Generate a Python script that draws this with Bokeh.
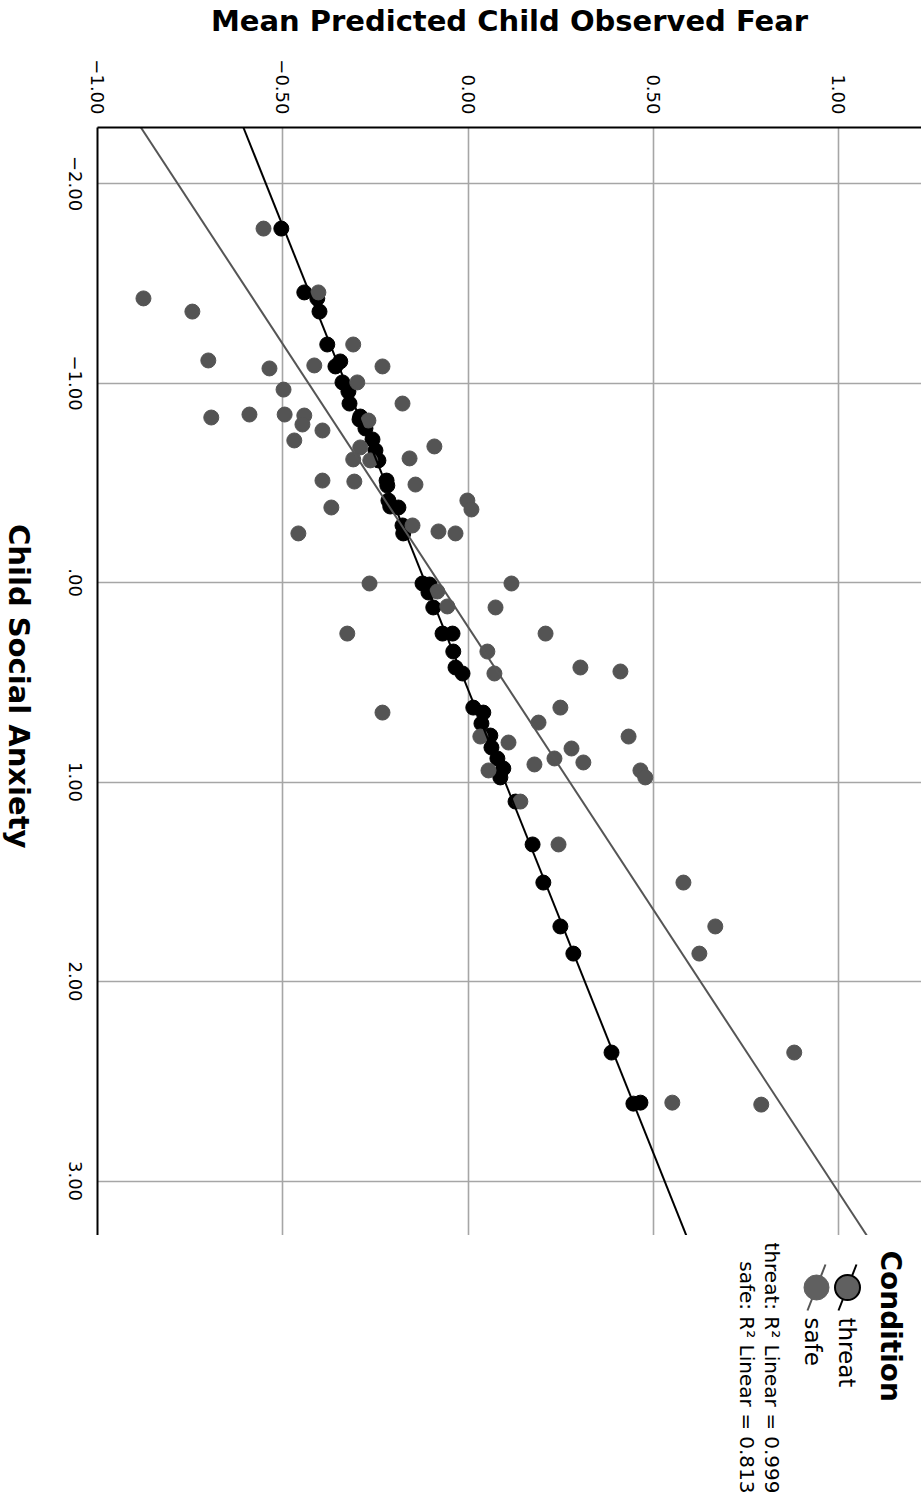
import math
from bokeh.plotting import figure
from bokeh.models import Range1d, FixedTicker, ColumnDataSource
from bokeh.layouts import column, row
from bokeh.core.properties import value
from bokeh.embed import file_html
from bokeh.resources import INLINE

# ---- data ----
safe_anxiety = [-1.774, -1.424, -1.358, -1.454, -1.113, -1.193, -1.073, -1.088, -1.083, -1.003,
                -0.967, -0.897, -0.827, -0.842, -0.842, -0.837, -0.792, -0.812, -0.762, -0.712,
                -0.677, -0.682, -0.622, -0.617, -0.612, -0.511, -0.506, -0.491, -0.411, -0.366,
                -0.376, -0.246, -0.286, -0.256, -0.246, 0.005, 0.005, 0.045, 0.120, 0.125,
                0.256, 0.256, 0.346, 0.456, 0.426, 0.446, 0.627, 0.702, 0.772, 0.772,
                0.802, 0.832, 0.882, 0.902, 0.912, 0.942, 0.977, 0.942, 1.098, 1.313,
                1.504, 1.724, 1.860, 2.356, 2.607, 2.617, 0.652]
safe_fear = [-0.552, -0.876, -0.744, -0.404, -0.701, -0.310, -0.536, -0.415, -0.231, -0.299,
             -0.498, -0.177, -0.693, -0.590, -0.495, -0.442, -0.447, -0.269, -0.393, -0.469,
             -0.291, -0.091, -0.158, -0.310, -0.264, -0.393, -0.307, -0.142, -0.002, 0.009,
             -0.369, -0.458, -0.150, -0.080, -0.034, -0.266, 0.117, -0.083, -0.056, 0.074,
             -0.326, 0.209, 0.052, 0.071, 0.303, 0.411, 0.249, 0.190, 0.433, 0.033,
             0.109, 0.279, 0.233, 0.311, 0.179, 0.465, 0.478, 0.055, 0.141, 0.244,
             0.581, 0.667, 0.624, 0.880, 0.551, 0.791, -0.231]

threat_anxiety = [-1.774, -1.454, -1.424, -1.358, -1.193, -1.108, -1.083, -1.003, -0.957, -0.897,
                  -0.832, -0.817, -0.772, -0.717, -0.662, -0.612, -0.511, -0.486, -0.411, -0.381,
                  -0.376, -0.286, -0.246, 0.005, 0.010, 0.050, 0.125, 0.256, 0.256, 0.346,
                  0.426, 0.456, 0.627, 0.652, 0.707, 0.767, 0.827, 0.882, 0.932, 0.977,
                  1.098, 1.313, 1.504, 1.724, 1.860, 2.356, 2.612, 2.607]
threat_fear = [-0.504, -0.442, -0.407, -0.401, -0.380, -0.345, -0.358, -0.339, -0.323, -0.320,
               -0.291, -0.293, -0.277, -0.258, -0.250, -0.242, -0.220, -0.218, -0.215, -0.210,
               -0.188, -0.177, -0.175, -0.123, -0.104, -0.107, -0.094, -0.069, -0.042, -0.040,
               -0.034, -0.015, 0.014, 0.041, 0.036, 0.060, 0.063, 0.079, 0.095, 0.087,
               0.128, 0.174, 0.203, 0.249, 0.284, 0.387, 0.446, 0.465]

# linear fit lines (intercept, slope)
threat_fit = (-0.1155, 0.2152)
safe_fit = (-0.0785, 0.3527)

fear_ticks = [-1.0, -0.5, 0.0, 0.5, 1.0]
fear_labels = ["\u22121.00", "\u22120.50", "0.00", "0.50", "1.00"]
anx_ticks = [-2, -1, 0, 1, 2, 3]
anx_labels = ["\u22122.00", "\u22121.00", ".00", "1.00", "2.00", "3.00"]

x_title = "Mean Predicted Child Observed Fear"
y_title = "Child Social Anxiety"
legend_title = "Condition"
legend_items = ["threat", "safe"]
r2_texts = ["threat: R\u00b2 Linear = 0.999", "safe: R\u00b2 Linear = 0.813"]

# ---- layout constants ----
X0, X1 = -1.0, 1.2234
Y_TOP, Y_BOT = -2.2807, 3.273
FONT = "DejaVu Sans"
rot = -math.pi / 2
LEFT_W = 88          # width of the strip that carries the left axis texts
TOP = 127            # frame top (px)
H_MAIN = 1235

# ---- main figure ----
p = figure(width=921 - LEFT_W, height=H_MAIN, output_backend="svg", toolbar_location=None,
           x_range=Range1d(X0, X1), y_range=Range1d(Y_BOT, Y_TOP),
           x_axis_location="above", y_axis_location="left",
           min_border_left=97 - LEFT_W, min_border_top=TOP, min_border_right=0, min_border_bottom=0)
p.outline_line_color = None
p.background_fill_color = "white"

xa = p.xaxis[0]
ya = p.yaxis[0]
xa.ticker = FixedTicker(ticks=fear_ticks)
ya.ticker = FixedTicker(ticks=[])          # axis line only; its labels live in the left strip
ya.major_label_standoff = 0
for ax in (xa, ya):
    ax.major_tick_line_color = None
    ax.minor_tick_line_color = None
    ax.axis_line_color = "black"
    ax.axis_line_width = 2
xa.major_label_overrides = {t: l for t, l in zip(fear_ticks, fear_labels)}
xa.major_label_text_font = FONT
xa.major_label_text_font_size = "18px"
xa.major_label_text_color = "black"
xa.major_label_orientation = rot
xa.major_label_standoff = 7
xa.axis_label = x_title
xa.axis_label_text_font = FONT
xa.axis_label_text_font_size = "29px"
xa.axis_label_text_font_style = "bold"
xa.axis_label_text_color = "black"
xa.axis_label_standoff = 18

p.xgrid.ticker = FixedTicker(ticks=fear_ticks)
p.ygrid.ticker = FixedTicker(ticks=anx_ticks)
for g in (p.xgrid[0], p.ygrid[0]):
    g.grid_line_color = "#a6a6a6"
    g.grid_line_width = 1.6

threat_src = ColumnDataSource(dict(x=threat_fear, y=threat_anxiety))
safe_src = ColumnDataSource(dict(x=safe_fear, y=safe_anxiety))
p.scatter("x", "y", source=threat_src, size=15, fill_color="black", line_color="black", line_width=1)
p.scatter("x", "y", source=safe_src, size=15, fill_color="#545454", line_color="#545454", line_width=1)

line_y = [Y_TOP, Y_BOT]
p.line([threat_fit[0] + threat_fit[1] * v for v in line_y], line_y, line_color="black", line_width=2)
p.line([safe_fit[0] + safe_fit[1] * v for v in line_y], line_y, line_color="#555555", line_width=2)

# ---- left strip: y tick labels and title, sharing the plot's y scale ----
left = figure(width=LEFT_W, height=H_MAIN, output_backend="svg", toolbar_location=None,
              x_range=Range1d(0, LEFT_W), y_range=p.y_range,
              x_axis_location=None, y_axis_location=None,
              min_border_left=0, min_border_right=0, min_border_top=TOP, min_border_bottom=0)
left.outline_line_color = None
left.xgrid.visible = False
left.ygrid.visible = False
left.text(x=[75] * len(anx_ticks), y=anx_ticks, text=anx_labels, angle=rot,
          text_align="center", text_baseline="middle",
          text_font=value(FONT), text_font_size="18px", text_color="black")
left.text(x=[18], y=[0.52], text=[y_title], angle=rot, text_align="center", text_baseline="middle",
          text_font=value(FONT), text_font_size="29px", text_font_style="bold", text_color="black")

# ---- legend panel (below the plot, rotated like the plot) ----
q = figure(width=921, height=265, output_backend="svg", toolbar_location=None,
           x_range=Range1d(0, 921), y_range=Range1d(0, 265),
           x_axis_location=None, y_axis_location=None,
           min_border=0)
q.outline_line_color = None
q.xgrid.visible = False
q.ygrid.visible = False

q.text(x=[890], y=[250], text=[legend_title], angle=rot, text_align="left", text_baseline="middle",
       text_font=value(FONT), text_font_style="bold", text_font_size="28px", text_color="black")
q.text(x=[846, 812], y=[183, 183], text=legend_items, angle=rot, text_align="left", text_baseline="middle",
       text_font=value(FONT), text_font_size="23px", text_color="black")
q.text(x=[771, 746], y=[7, 7], text=r2_texts, angle=rot, text_align="right", text_baseline="middle",
       text_font=value(FONT), text_font_size="20px", text_color="black")
# legend symbols: short fit-line stroke through a marker
q.segment(x0=[856], y0=[236], x1=[838], y1=[190], line_color="black", line_width=2)
q.segment(x0=[825], y0=[236], x1=[807], y1=[190], line_color="#555555", line_width=2)
q.scatter(x=[847], y=[213], size=25, fill_color="#606060", line_color="black", line_width=2)
q.scatter(x=[816], y=[213], size=25, fill_color="#606060", line_color="#606060", line_width=1)

layout = column(row(left, p, spacing=0), q, spacing=0)
open("out.html", "w").write(file_html(layout, INLINE))
